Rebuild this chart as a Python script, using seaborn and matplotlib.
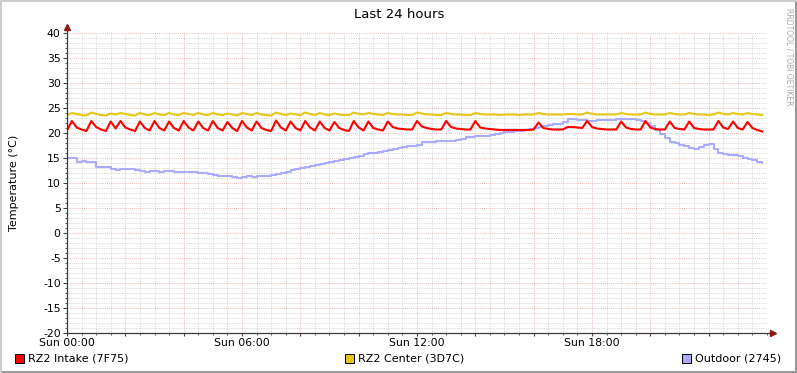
import numpy as np
import pandas as pd
import matplotlib
matplotlib.use("Agg")
import matplotlib.pyplot as plt
from matplotlib.ticker import MultipleLocator
from matplotlib.patches import Rectangle
import seaborn as sns

plt.rcParams["axes.unicode_minus"] = False

# 10-minute samples over the last 24 hours (144 per series)
intake = [
    20.5, 22.4, 21.1, 20.7, 20.4, 22.4, 21.2, 20.7, 20.4, 22.3, 20.9, 22.4,
    21.1, 20.7, 20.4, 22.3, 21.0, 20.5, 22.4, 21.0, 20.5, 22.3, 21.0, 20.5,
    22.4, 21.1, 20.5, 22.3, 21.0, 20.5, 22.4, 21.0, 20.5, 22.2, 21.0, 20.4,
    22.4, 21.1, 20.5, 22.3, 21.0, 20.6, 20.4, 22.5, 21.1, 20.5, 22.3, 21.0,
    20.5, 22.4, 21.1, 20.5, 22.3, 21.0, 20.5, 22.2, 21.0, 20.6, 20.4, 22.4,
    21.1, 20.5, 22.3, 21.0, 20.7, 20.5, 22.3, 21.2, 20.9, 20.8, 20.7, 20.7,
    22.4, 21.3, 21.0, 20.8, 20.7, 20.7, 22.4, 21.2, 20.9, 20.8, 20.7, 20.7,
    22.4, 21.1, 20.9, 20.8, 20.7, 20.6, 20.6, 20.6, 20.6, 20.6, 20.6, 20.6,
    20.7, 22.1, 21.0, 20.8, 20.7, 20.7, 20.7, 21.2, 21.2, 21.1, 21.0, 22.4,
    21.2, 20.9, 20.8, 20.7, 20.7, 20.7, 22.3, 21.1, 20.8, 20.7, 20.7, 22.4,
    21.1, 20.8, 20.7, 20.7, 22.3, 21.0, 20.8, 20.7, 22.3, 21.0, 20.8, 20.7,
    20.7, 20.7, 22.4, 21.1, 20.8, 22.3, 21.0, 20.7, 22.2, 21.0, 20.6, 20.3,
]
center = [
    23.6, 24.0, 23.8, 23.6, 23.5, 24.1, 23.8, 23.6, 23.5, 23.9, 23.7, 24.0,
    23.8, 23.6, 23.5, 24.0, 23.7, 23.6, 24.0, 23.7, 23.6, 24.0, 23.7, 23.6,
    24.0, 23.8, 23.6, 24.0, 23.7, 23.6, 24.0, 23.7, 23.6, 23.9, 23.7, 23.5,
    24.0, 23.8, 23.6, 24.0, 23.7, 23.6, 23.5, 24.1, 23.8, 23.6, 23.9, 23.7,
    23.6, 24.1, 23.8, 23.6, 24.0, 23.7, 23.6, 23.9, 23.7, 23.6, 23.6, 24.1,
    23.8, 23.7, 24.0, 23.8, 23.7, 23.6, 24.0, 23.8, 23.7, 23.7, 23.6, 23.6,
    24.1, 23.9, 23.7, 23.7, 23.6, 23.6, 24.0, 23.8, 23.7, 23.7, 23.6, 23.6,
    24.0, 23.8, 23.7, 23.7, 23.7, 23.6, 23.7, 23.7, 23.7, 23.6, 23.7, 23.7,
    23.7, 24.0, 23.8, 23.7, 23.7, 23.7, 23.7, 23.8, 23.8, 23.7, 23.7, 24.1,
    23.8, 23.7, 23.7, 23.7, 23.7, 23.7, 24.0, 23.8, 23.7, 23.7, 23.7, 24.1,
    23.8, 23.7, 23.7, 23.7, 24.0, 23.8, 23.7, 23.7, 24.0, 23.8, 23.7, 23.7,
    23.6, 23.7, 24.1, 23.8, 23.7, 24.0, 23.8, 23.7, 24.0, 23.8, 23.7, 23.6,
]
outdoor = [
    15.1, 15.0, 14.3, 14.4, 14.3, 14.2, 13.3, 13.3, 13.2, 12.9, 12.7, 12.9,
    12.9, 12.8, 12.6, 12.4, 12.2, 12.5, 12.4, 12.3, 12.4, 12.5, 12.3, 12.3,
    12.3, 12.3, 12.2, 12.1, 12.0, 11.9, 11.7, 11.5, 11.5, 11.4, 11.2, 11.1,
    11.2, 11.4, 11.3, 11.4, 11.4, 11.5, 11.6, 11.8, 12.0, 12.3, 12.6, 12.8,
    13.0, 13.2, 13.4, 13.6, 13.8, 14.0, 14.3, 14.5, 14.7, 14.9, 15.1, 15.2,
    15.5, 15.8, 16.0, 16.1, 16.3, 16.5, 16.7, 16.9, 17.0, 17.2, 17.4, 17.4,
    17.6, 18.2, 18.3, 18.3, 18.4, 18.4, 18.4, 18.5, 18.6, 18.8, 19.2, 19.3,
    19.4, 19.5, 19.5, 19.6, 19.8, 20.0, 20.2, 20.3, 20.4, 20.5, 20.6, 20.8,
    21.0, 21.2, 21.4, 21.6, 21.8, 21.9, 22.3, 22.8, 22.8, 22.6, 22.6, 22.5,
    22.5, 22.6, 22.6, 22.7, 22.7, 22.8, 22.9, 22.9, 22.8, 22.7, 22.5, 22.1,
    21.5, 20.6, 19.9, 19.0, 18.3, 18.0, 17.7, 17.4, 17.0, 16.9, 17.3, 17.7,
    17.9, 16.8, 16.0, 15.8, 15.7, 15.6, 15.4, 15.0, 14.8, 14.6, 14.3, 14.1,
]
series_names = ["RZ2 Intake (7F75)", "RZ2 Center (3D7C)", "Outdoor (2745)"]
series_colors = ["#ff0000", "#e8c618", "#aaaaff"]
series_steps = ["default", "default", "steps-post"]
tick_hours = [0, 6, 12, 18]
tick_labels = ["Sun 00:00", "Sun 06:00", "Sun 12:00", "Sun 18:00"]

hours = np.arange(len(intake)) / 6.0
df = pd.DataFrame({"hour": np.concatenate([hours] * 3),
                   "temp": intake + center + outdoor,
                   "sensor": np.repeat(series_names, len(intake))})

W, H = 797, 373
fig = plt.figure(figsize=(W / 100, H / 100), dpi=100)
fig.patch.set_facecolor("white")
ax = fig.add_axes([67 / W, (H - 333) / H, 700 / W, 300 / H])
ax.set_facecolor("white")

# outdoor first so red/yellow sit on top
for name, col, ds in list(zip(series_names, series_colors, series_steps))[::-1]:
    sns.lineplot(data=df[df["sensor"] == name], x="hour", y="temp", ax=ax,
                 color=col, linewidth=1.5, drawstyle=ds,
                 legend=False, zorder=3)

ax.set_xlim(0, 24)
ax.set_ylim(-20, 40)
ax.yaxis.set_major_locator(MultipleLocator(5))
ax.yaxis.set_minor_locator(MultipleLocator(1))
ax.xaxis.set_minor_locator(MultipleLocator(0.5))
ax.set_xticks(np.arange(0, 24, 2))
ax.set_xticklabels([tick_labels[tick_hours.index(h)] if h in tick_hours else ""
                    for h in range(0, 24, 2)])
ax.set_xlabel("")
ax.set_ylabel("Temperature (°C)", fontsize=8)
ax.yaxis.set_label_coords((19 - 67) / 700, 0.5)

ax.set_axisbelow(True)
ax.grid(which="minor", color="#d2d2d2", linestyle=(0, (1, 1)), linewidth=0.6)
ax.grid(which="major", color="#eaa5a5", linestyle=(0, (1, 1.5)), linewidth=0.6)
ax.tick_params(axis="both", which="major", labelsize=7.8, length=3,
               width=0.8, color="#444444", pad=1.5)
ax.tick_params(axis="x", which="major", length=2)
ax.tick_params(axis="both", which="minor", length=1.5, width=0.6,
               color="#444444")
for s in ax.spines.values():
    s.set_visible(False)

# axis lines with arrows
axis_col = "#3a3a3a"
arrow_col = "#8b1a1a"
ax.plot([0, 0], [0, 1.02], transform=ax.transAxes, color=axis_col,
        lw=0.9, clip_on=False, zorder=4)
ax.plot([0, 1.009], [0, 0], transform=ax.transAxes, color=axis_col,
        lw=0.9, clip_on=False, zorder=4)
ax.plot([0], [1.02], marker="^", ms=4, color=arrow_col,
        transform=ax.transAxes, clip_on=False, zorder=5)
ax.plot([1.009], [0], marker=">", ms=4, color=arrow_col,
        transform=ax.transAxes, clip_on=False, zorder=5)

fig.text(399 / W, 1 - 14 / H, "Last 24 hours", ha="center", va="center",
         fontsize=9.5)
fig.text(789 / W, 1 - 8 / H, "RRDTOOL / TOBI OETIKER", rotation=270,
         ha="center", va="top", fontsize=5.5, color="#aaaaaa")

# legend like rrdtool: boxes spread across bottom
leg_x = [15, 345, 682]
for x, name, col in zip(leg_x, series_names, series_colors):
    fig.patches.append(Rectangle((x / W, 1 - 363 / H), 9 / W, 9 / H,
                                 transform=fig.transFigure, facecolor=col,
                                 edgecolor="black", lw=0.7))
    fig.text((x + 13) / W, 1 - 358.5 / H, name, ha="left", va="center",
             fontsize=8)

# 3d frame
fig.patches.append(Rectangle((0, 0), 1, 2 / H, transform=fig.transFigure,
                             facecolor="#999999", lw=0))
fig.patches.append(Rectangle((1 - 2 / W, 0), 2 / W, 1, transform=fig.transFigure,
                             facecolor="#999999", lw=0))
fig.patches.append(Rectangle((0, 1 - 2 / H), 1, 2 / H, transform=fig.transFigure,
                             facecolor="#cccccc", lw=0))
fig.patches.append(Rectangle((0, 0), 2 / W, 1, transform=fig.transFigure,
                             facecolor="#cccccc", lw=0))

fig.savefig("out.png", dpi=100)
